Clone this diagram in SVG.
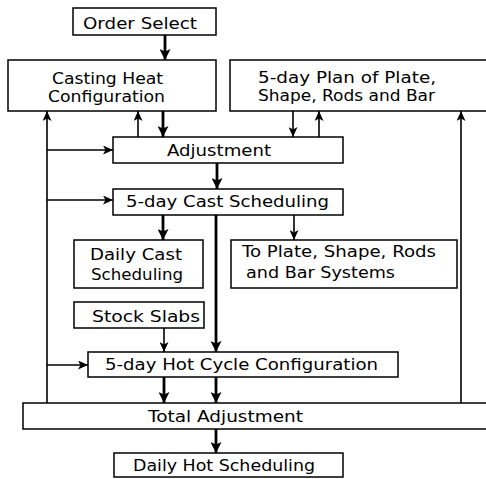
<svg xmlns="http://www.w3.org/2000/svg" width="486" height="479" viewBox="0 0 486 479">
  <style>
    .box { fill: #ffffff; stroke: #000000; stroke-width: 1.5; }
    .lbl { font-family: "DejaVu Sans", "Liberation Sans", sans-serif; font-size: 16px; fill: #000000; }
    .thin { fill: none; stroke: #000000; stroke-width: 1.6; }
    .thick { fill: none; stroke: #000000; stroke-width: 2.8; }
  </style>
  <defs>
    <marker id="arrow" markerUnits="userSpaceOnUse" markerWidth="11" markerHeight="9" refX="10" refY="4.5" orient="auto">
      <path d="M0,0 L10,4.5 L0,9 L2.5,4.5 z" fill="#000000"/>
    </marker>
    <marker id="arrowBig" markerUnits="userSpaceOnUse" markerWidth="12" markerHeight="11" refX="11" refY="5.5" orient="auto">
      <path d="M0,0 L11,5.5 L0,11 L2.5,5.5 z" fill="#000000"/>
    </marker>
  </defs>
  <rect width="486" height="479" fill="#ffffff"/>

  <!-- connectors -->
  <g id="connectors">
    <!-- main downward flow -->
    <line class="thick" x1="165" y1="35" x2="165" y2="60" marker-end="url(#arrowBig)"/>
    <line class="thick" x1="163" y1="111" x2="163" y2="137" marker-end="url(#arrowBig)"/>
    <line class="thin" x1="138" y1="137" x2="138" y2="111" marker-end="url(#arrow)"/>
    <line class="thin" x1="293" y1="111" x2="293" y2="137" marker-end="url(#arrow)"/>
    <line class="thin" x1="319" y1="137" x2="319" y2="111" marker-end="url(#arrow)"/>
    <line class="thick" x1="217" y1="163" x2="217" y2="189" marker-end="url(#arrowBig)"/>
    <line class="thick" x1="163" y1="215" x2="163" y2="240" marker-end="url(#arrowBig)"/>
    <line class="thin" x1="294" y1="215" x2="294" y2="240" marker-end="url(#arrow)"/>
    <line class="thick" x1="216" y1="215" x2="216" y2="352" marker-end="url(#arrowBig)"/>
    <line class="thin" x1="164" y1="328" x2="164" y2="352" marker-end="url(#arrow)"/>
    <line class="thick" x1="164" y1="377" x2="164" y2="403" marker-end="url(#arrowBig)"/>
    <line class="thick" x1="216" y1="377" x2="216" y2="403" marker-end="url(#arrowBig)"/>
    <line class="thick" x1="216" y1="429" x2="216" y2="453" marker-end="url(#arrowBig)"/>
    <!-- feedback from total adjustment -->
    <line class="thin" x1="47" y1="403" x2="47" y2="111" marker-end="url(#arrow)"/>
    <line class="thin" x1="47" y1="150" x2="113" y2="150" marker-end="url(#arrow)"/>
    <line class="thin" x1="47" y1="200" x2="113" y2="200" marker-end="url(#arrow)"/>
    <line class="thin" x1="47" y1="365" x2="88" y2="365" marker-end="url(#arrow)"/>
    <line class="thin" x1="461" y1="403" x2="461" y2="111" marker-end="url(#arrow)"/>
  </g>

  <g id="order-select">
    <rect class="box" x="73" y="8" width="143" height="27"/>
    <text class="lbl" x="83" y="29" textLength="114" lengthAdjust="spacingAndGlyphs">Order Select</text>
  </g>

  <g id="casting-heat">
    <rect class="box" x="8" y="60" width="208" height="51"/>
    <text class="lbl" x="52" y="84" textLength="111" lengthAdjust="spacingAndGlyphs">Casting Heat</text>
    <text class="lbl" x="48" y="102" textLength="117" lengthAdjust="spacingAndGlyphs">Configuration</text>
  </g>

  <g id="five-day-plan">
    <rect class="box" x="230" y="60" width="262" height="51"/>
    <text class="lbl" x="258" y="83" textLength="178" lengthAdjust="spacingAndGlyphs">5-day Plan of Plate,</text>
    <text class="lbl" x="258" y="101" textLength="177" lengthAdjust="spacingAndGlyphs">Shape, Rods and Bar</text>
  </g>

  <g id="adjustment">
    <rect class="box" x="113" y="137" width="230" height="26"/>
    <text class="lbl" x="167" y="156" textLength="104" lengthAdjust="spacingAndGlyphs">Adjustment</text>
  </g>

  <g id="cast-scheduling">
    <rect class="box" x="113" y="189" width="230" height="26"/>
    <text class="lbl" x="126" y="207" textLength="203" lengthAdjust="spacingAndGlyphs">5-day Cast Scheduling</text>
  </g>

  <g id="daily-cast">
    <rect class="box" x="74" y="240" width="129" height="48"/>
    <text class="lbl" x="90" y="260" textLength="92" lengthAdjust="spacingAndGlyphs">Daily Cast</text>
    <text class="lbl" x="91" y="280" textLength="92" lengthAdjust="spacingAndGlyphs">Scheduling</text>
  </g>

  <g id="to-plate">
    <rect class="box" x="231" y="240" width="226" height="48"/>
    <text class="lbl" x="242" y="257" textLength="194" lengthAdjust="spacingAndGlyphs">To Plate, Shape, Rods</text>
    <text class="lbl" x="246" y="278" textLength="149" lengthAdjust="spacingAndGlyphs">and Bar Systems</text>
  </g>

  <g id="stock-slabs">
    <rect class="box" x="74" y="302" width="130" height="26"/>
    <text class="lbl" x="92" y="322" textLength="108" lengthAdjust="spacingAndGlyphs">Stock Slabs</text>
  </g>

  <g id="hot-cycle">
    <rect class="box" x="88" y="352" width="310" height="25"/>
    <text class="lbl" x="105" y="370" textLength="273" lengthAdjust="spacingAndGlyphs">5-day Hot Cycle Configuration</text>
  </g>

  <g id="total-adjustment">
    <rect class="box" x="23" y="403" width="470" height="26"/>
    <text class="lbl" x="148" y="422" textLength="155" lengthAdjust="spacingAndGlyphs">Total Adjustment</text>
  </g>

  <g id="daily-hot">
    <rect class="box" x="114" y="453" width="229" height="24"/>
    <text class="lbl" x="133" y="471" textLength="182" lengthAdjust="spacingAndGlyphs">Daily Hot Scheduling</text>
  </g>
</svg>
